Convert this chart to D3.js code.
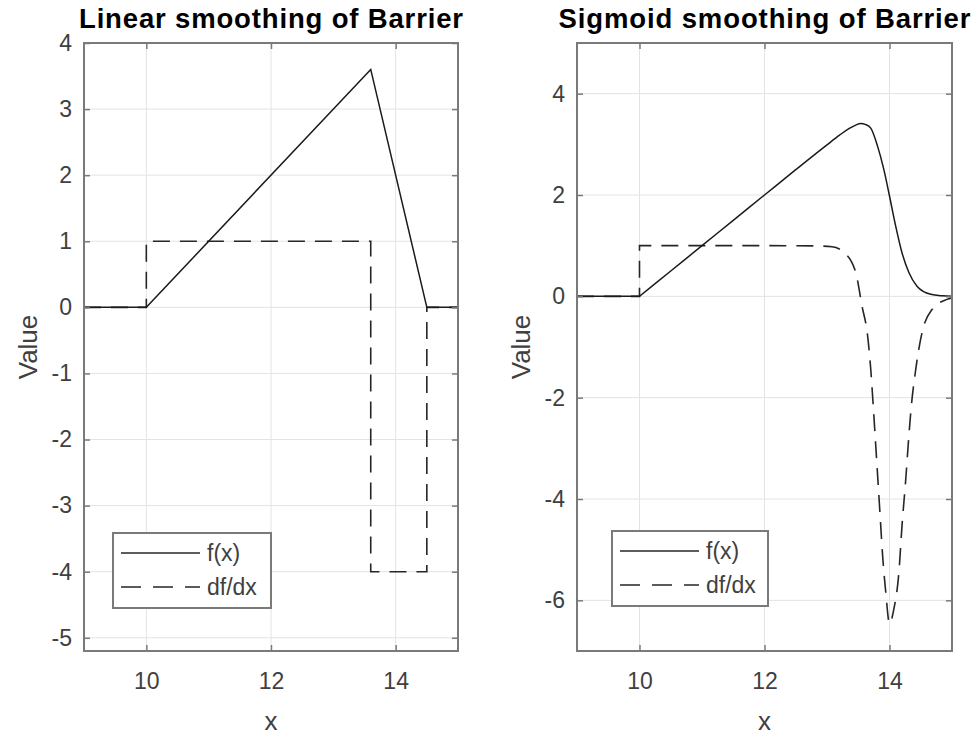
<!DOCTYPE html>
<html>
<head>
<meta charset="utf-8">
<script src="https://cdn.jsdelivr.net/npm/d3@7"></script>
<style>
  html, body { margin: 0; padding: 0; background: #fff; }
  svg { display: block; font-family: "Liberation Sans", Arial, Helvetica, sans-serif; }
</style>
</head>
<body>
<svg id="chart" width="977" height="735"></svg>
<script>
// ---------- Data ----------
const xTicks = [10, 12, 14];
const linYTicks = [-5, -4, -3, -2, -1, 0, 1, 2, 3, 4];
const sigYTicks = [-6, -4, -2, 0, 2, 4];

// Linear smoothing
const linFX = [9, 10, 13.6, 14.5, 15];
const linFY = [0, 0, 3.6, 0, 0];
const linDX = [9, 10, 10, 13.6, 13.6, 14.5, 14.5, 15];
const linDY = [0, 0, 1, 1, -4, -4, 0, 0];

// Sigmoid smoothing
const sigFX = [9, 10, 10.5, 11, 11.5, 12, 12.5, 13, 13.2, 13.35, 13.46, 13.54, 13.62, 13.7, 13.81, 13.91, 14.0, 14.1, 14.2, 14.31, 14.44, 14.66, 14.85, 15];
const sigFY = [0, 0, 0.5, 1, 1.5, 2, 2.5, 2.99, 3.18, 3.31, 3.38, 3.41, 3.39, 3.32, 2.96, 2.50, 1.98, 1.38, 0.86, 0.47, 0.20, 0.04, 0.01, 0];
const sigDX = [9, 10, 10, 11, 12, 12.8, 13.08, 13.27, 13.46, 13.56, 13.65, 13.70, 13.75, 13.80, 13.85, 13.89, 13.94, 14.0, 14.07, 14.15, 14.20, 14.26, 14.31, 14.34, 14.42, 14.52, 14.68, 14.92, 15];
const sigDY = [0, 0, 1, 1, 1, 0.995, 0.98, 0.87, 0.47, -0.19, -0.78, -1.44, -2.36, -3.34, -4.33, -5.12, -5.84, -6.46, -6.17, -5.45, -4.53, -3.61, -2.75, -2.29, -1.44, -0.72, -0.26, -0.06, -0.03];

const titles = ["Linear smoothing of Barrier", "Sigmoid smoothing of Barrier"];
const legendLabels = ["f(x)", "df/dx"];

// ---------- Layout ----------
const svg = d3.select("#chart");
const panels = [
  { left: 84, right: 458, top: 43, bottom: 651, yDomain: [-5.2, 4], yTicks: linYTicks,
    fx: linFX, fy: linFY, dx: linDX, dy: linDY, smooth: false, title: titles[0],
    legend: { x: 113, y: 533, w: 158, h: 75 }, titleLen: 384, ylabX: 28 },
  { left: 577, right: 952, top: 43, bottom: 651, yDomain: [-7, 5], yTicks: sigYTicks,
    fx: sigFX, fy: sigFY, dx: sigDX, dy: sigDY, smooth: true, title: titles[1],
    legend: { x: 612, y: 531, w: 156, h: 75 }, titleLen: 412, ylabX: 521 }
];

const frameColor = "#7a7a7a";
const tickTextColor = "#404040";

panels.forEach(p => {
  const x = d3.scaleLinear().domain([9, 15]).range([p.left, p.right]);
  const y = d3.scaleLinear().domain(p.yDomain).range([p.bottom, p.top]);
  const g = svg.append("g");

  // grid
  g.append("g").selectAll("line").data(xTicks).join("line")
    .attr("x1", d => x(d)).attr("x2", d => x(d))
    .attr("y1", p.top).attr("y2", p.bottom)
    .attr("stroke", "#e3e3e3").attr("stroke-width", 1);
  g.append("g").selectAll("line").data(p.yTicks).join("line")
    .attr("x1", p.left).attr("x2", p.right)
    .attr("y1", d => y(d)).attr("y2", d => y(d))
    .attr("stroke", "#e3e3e3").attr("stroke-width", 1);

  // data lines: linear up to the last x == 10 point, then smooth (if requested)
  const lin = d3.line().x(d => x(d[0])).y(d => y(d[1])).curve(d3.curveLinear);
  const smo = d3.line().x(d => x(d[0])).y(d => y(d[1])).curve(d3.curveMonotoneX);
  function drawSeries(xs, ys, attrs) {
    const pts = xs.map((v, i) => [v, ys[i]]);
    let k = 0;
    pts.forEach((d, i) => { if (d[0] <= 10) k = i; });
    let dStr;
    if (p.smooth) {
      const a = lin(pts.slice(0, k + 1));
      const b = smo(pts.slice(k));
      dStr = a + "L" + b.slice(1);
    } else {
      dStr = lin(pts);
    }
    const path = g.append("path").attr("d", dStr).attr("fill", "none");
    Object.entries(attrs).forEach(([kk, vv]) => path.attr(kk, vv));
  }
  drawSeries(p.dx, p.dy, { stroke: "#262626", "stroke-width": 1.6, "stroke-dasharray": "17,10" });
  drawSeries(p.fx, p.fy, { stroke: "#1a1a1a", "stroke-width": 1.5 });

  // axes
  const fs = "23px";
  const fmt = d => (d < 0 ? "-" + Math.abs(d) : String(d));
  const ab = g.append("g").attr("transform", `translate(0,${p.bottom})`)
    .call(d3.axisBottom(x).tickValues(xTicks).tickSize(-6).tickPadding(22).tickFormat(fmt));
  const at = g.append("g").attr("transform", `translate(0,${p.top})`)
    .call(d3.axisTop(x).tickValues(xTicks).tickSize(-6).tickFormat(""));
  const al = g.append("g").attr("transform", `translate(${p.left},0)`)
    .call(d3.axisLeft(y).tickValues(p.yTicks).tickSize(-6).tickPadding(12).tickFormat(fmt));
  const ar = g.append("g").attr("transform", `translate(${p.right},0)`)
    .call(d3.axisRight(y).tickValues(p.yTicks).tickSize(-6).tickFormat(""));
  [ab, at, al, ar].forEach(a => {
    a.select(".domain").remove();
    a.selectAll(".tick line").attr("stroke", frameColor).attr("stroke-width", 1.5);
    a.selectAll(".tick text").attr("fill", tickTextColor).style("font-size", fs)
      .style("font-family", "'Liberation Sans', Arial, sans-serif");
  });

  // frame
  g.append("rect").attr("x", p.left).attr("y", p.top)
    .attr("width", p.right - p.left).attr("height", p.bottom - p.top)
    .attr("fill", "none").attr("stroke", frameColor).attr("stroke-width", 2);

  // title
  g.append("text").attr("x", (p.left + p.right) / 2).attr("y", 28)
    .attr("text-anchor", "middle").attr("font-weight", "bold")
    .style("font-size", "27.5px").attr("fill", "#000")
    .attr("textLength", p.titleLen).attr("lengthAdjust", "spacing")
    .text(p.title);

  // axis labels
  g.append("text").attr("x", (p.left + p.right) / 2).attr("y", 730)
    .attr("text-anchor", "middle").style("font-size", "26px").attr("fill", tickTextColor)
    .text("x");
  g.append("text").attr("transform", `translate(${p.ylabX},${(p.top + p.bottom) / 2}) rotate(-90)`)
    .attr("text-anchor", "middle").attr("dy", "0.36em").style("font-size", "26px").attr("fill", tickTextColor)
    .text("Value");

  // legend
  const L = p.legend;
  const lg = g.append("g");
  lg.append("rect").attr("x", L.x).attr("y", L.y).attr("width", L.w).attr("height", L.h)
    .attr("fill", "#fff").attr("stroke", frameColor).attr("stroke-width", 2);
  const rows = [{ dash: null, lab: legendLabels[0], yy: L.y + 20 }, { dash: "20,12", lab: legendLabels[1], yy: L.y + 54 }];
  rows.forEach(r => {
    lg.append("line").attr("x1", L.x + 8).attr("x2", L.x + 87).attr("y1", r.yy).attr("y2", r.yy)
      .attr("stroke", "#262626").attr("stroke-width", 1.5)
      .attr("stroke-dasharray", r.dash);
    lg.append("text").attr("x", L.x + 94).attr("y", r.yy).attr("dy", "0.34em")
      .style("font-size", "23px").attr("fill", tickTextColor).text(r.lab);
  });
});
</script>
</body>
</html>
